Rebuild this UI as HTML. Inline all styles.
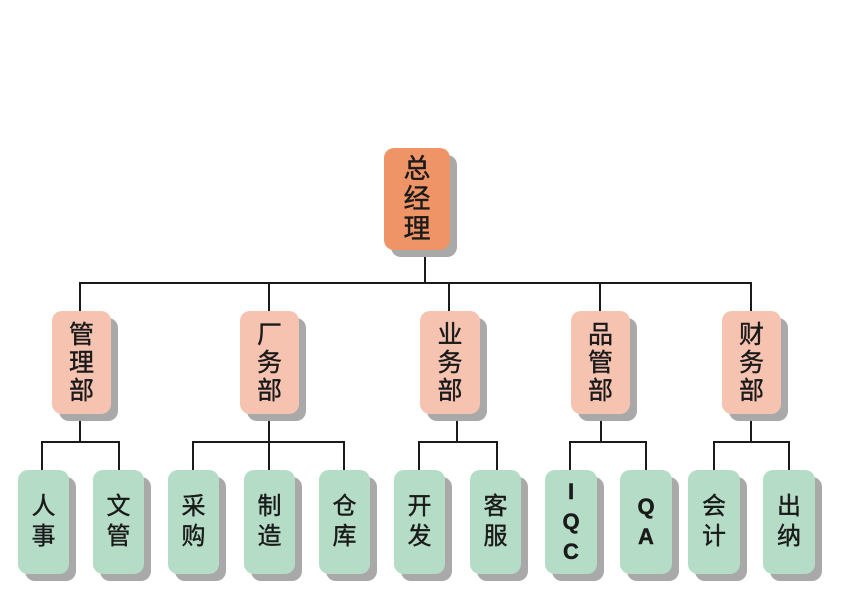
<!DOCTYPE html>
<html><head><meta charset="utf-8"><style>
body{margin:0;width:842px;height:595px;background:#fff;position:relative;overflow:hidden;font-family:"Liberation Sans","Noto Sans CJK SC",sans-serif;}
.b{position:absolute;border-radius:10px;box-shadow:7px 7px 0 #a9a9a9;display:flex;align-items:center;justify-content:center;text-align:center;color:#1a1a1a;-webkit-text-stroke:0.4px #1a1a1a;}
.r{background:#ef9466;font-size:27px;line-height:30px;}
.m{background:#f6c3b1;font-size:25px;line-height:28px;}
.l{background:#b4dcc7;font-size:24px;line-height:30px;}
.q{font-weight:bold;font-family:"Liberation Sans",sans-serif;font-size:22px;line-height:30px;}
.h{position:absolute;height:2px;background:#1a1a1a;}
.v{position:absolute;width:2px;background:#1a1a1a;}
</style></head><body>
<div class="v" style="left:424px;top:250px;height:34px"></div>
<div class="h" style="left:79px;top:282px;width:673px"></div>
<div class="v" style="left:79px;top:282px;height:30px"></div>
<div class="v" style="left:268px;top:282px;height:30px"></div>
<div class="v" style="left:448px;top:282px;height:30px"></div>
<div class="v" style="left:599px;top:282px;height:30px"></div>
<div class="v" style="left:750px;top:282px;height:30px"></div>

<div class="v" style="left:79px;top:414px;height:28px"></div>
<div class="h" style="left:41px;top:441px;width:79px"></div>
<div class="v" style="left:41px;top:441px;height:30px"></div>
<div class="v" style="left:118px;top:441px;height:30px"></div>

<div class="v" style="left:268px;top:414px;height:28px"></div>
<div class="h" style="left:192px;top:441px;width:153px"></div>
<div class="v" style="left:192px;top:441px;height:30px"></div>
<div class="v" style="left:268px;top:441px;height:30px"></div>
<div class="v" style="left:343px;top:441px;height:30px"></div>

<div class="v" style="left:456px;top:414px;height:28px"></div>
<div class="h" style="left:418px;top:441px;width:80px"></div>
<div class="v" style="left:418px;top:441px;height:30px"></div>
<div class="v" style="left:496px;top:441px;height:30px"></div>

<div class="v" style="left:600px;top:414px;height:28px"></div>
<div class="h" style="left:569px;top:441px;width:78px"></div>
<div class="v" style="left:569px;top:441px;height:30px"></div>
<div class="v" style="left:645px;top:441px;height:30px"></div>

<div class="v" style="left:750px;top:414px;height:28px"></div>
<div class="h" style="left:713px;top:441px;width:77px"></div>
<div class="v" style="left:713px;top:441px;height:30px"></div>
<div class="v" style="left:788px;top:441px;height:30px"></div>

<div class="b r" style="left:384px;top:148px;width:66px;height:102px">总<br>经<br>理</div>

<div class="b m" style="left:52px;top:311px;width:59px;height:103px">管<br>理<br>部</div>
<div class="b m" style="left:240px;top:311px;width:59px;height:103px">厂<br>务<br>部</div>
<div class="b m" style="left:420px;top:311px;width:60px;height:103px">业<br>务<br>部</div>
<div class="b m" style="left:571px;top:311px;width:59px;height:103px">品<br>管<br>部</div>
<div class="b m" style="left:722px;top:311px;width:59px;height:103px">财<br>务<br>部</div>

<div class="b l" style="left:18px;top:470px;width:51px;height:104px">人<br>事</div>
<div class="b l" style="left:93px;top:470px;width:51px;height:104px">文<br>管</div>
<div class="b l" style="left:168px;top:470px;width:51px;height:104px">采<br>购</div>
<div class="b l" style="left:244px;top:470px;width:51px;height:104px">制<br>造</div>
<div class="b l" style="left:319px;top:470px;width:51px;height:104px">仓<br>库</div>
<div class="b l" style="left:394px;top:470px;width:51px;height:104px">开<br>发</div>
<div class="b l" style="left:470px;top:470px;width:51px;height:104px">客<br>服</div>
<div class="b l q" style="left:545px;top:470px;width:52px;height:104px">I<br>Q<br>C</div>
<div class="b l q" style="left:620px;top:470px;width:52px;height:104px">Q<br>A</div>
<div class="b l" style="left:688px;top:470px;width:52px;height:104px">会<br>计</div>
<div class="b l" style="left:763px;top:470px;width:52px;height:104px">出<br>纳</div>
</body></html>
